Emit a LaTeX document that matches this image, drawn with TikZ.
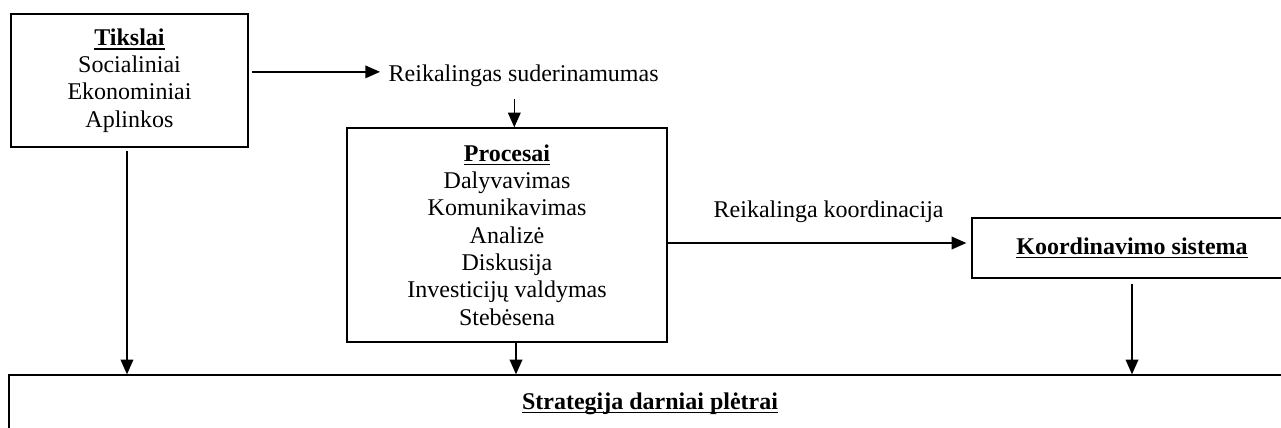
\documentclass[tikz,border=0pt]{standalone}
\usepackage{fontspec}
\setmainfont{Liberation Serif}
\usetikzlibrary{arrows.meta}
\newcommand\titul[1]{\leavevmode\setbox0=\hbox{\textbf{#1}}\rlap{\rule[-3.2pt]{\wd0}{1.2pt}}\box0}
\begin{document}
\begin{tikzpicture}[x=0.75pt,y=-0.75pt,>={Triangle[length=11pt,width=9.5pt]},line width=1pt,
  font=\fontsize{18}{20.5}\selectfont,
  box/.style={draw,line width=1pt,align=center,inner sep=0pt},
  lbl/.style={inner sep=6pt,anchor=base west}]
\clip (0,0) rectangle (1281,428);
\node[box,minimum width=177.75pt,minimum height=99.75pt] (tikslai) at (129.5,80.5) {\titul{Tikslai}\\Socialiniai\\Ekonominiai\\Aplinkos};
\node[box,minimum width=240pt,minimum height=160.5pt] (procesai) at (507,235) {\titul{Procesai}\\Dalyvavimas\\Komunikavimas\\Analizė\\Diskusija\\Investicijų valdymas\\Stebėsena};
\node[box,minimum width=240pt,minimum height=45pt] (koord) at (1132,248) {\titul{Koordinavimo sistema}};
\node[box,minimum width=961.5pt,minimum height=42.75pt] (strat) at (650,403.5) {\titul{Strategija darniai plėtrai}};
\node[lbl] (suder) at (380,82) {Reikalingas suderinamumas};
\node[lbl] (koordtxt) at (705,217) {Reikalinga koordinacija};
\coordinate (s1) at ([yshift=3.3pt]suder.west);
\draw[->,shorten <=2.25pt] (tikslai.east |- s1) -- (s1);
\coordinate (s2) at ([xshift=-7pt]suder.south);
\draw[->,shorten <=2pt] (s2) -- (s2 |- procesai.north);
\coordinate (t1) at ([xshift=-1.9pt]tikslai.south);
\draw[->,shorten <=2.25pt] (t1) -- (t1 |- strat.north);
\coordinate (p1) at ([xshift=6.75pt]procesai.south);
\draw[->] (p1) -- (p1 |- strat.north);
\coordinate (k1) at ([yshift=3.75pt]koord.west);
\draw[->,shorten >=3.75pt] (procesai.east |- k1) -- (k1);
\draw[->,shorten <=3.75pt] (koord.south) -- (koord.south |- strat.north);
\end{tikzpicture}
\end{document}
